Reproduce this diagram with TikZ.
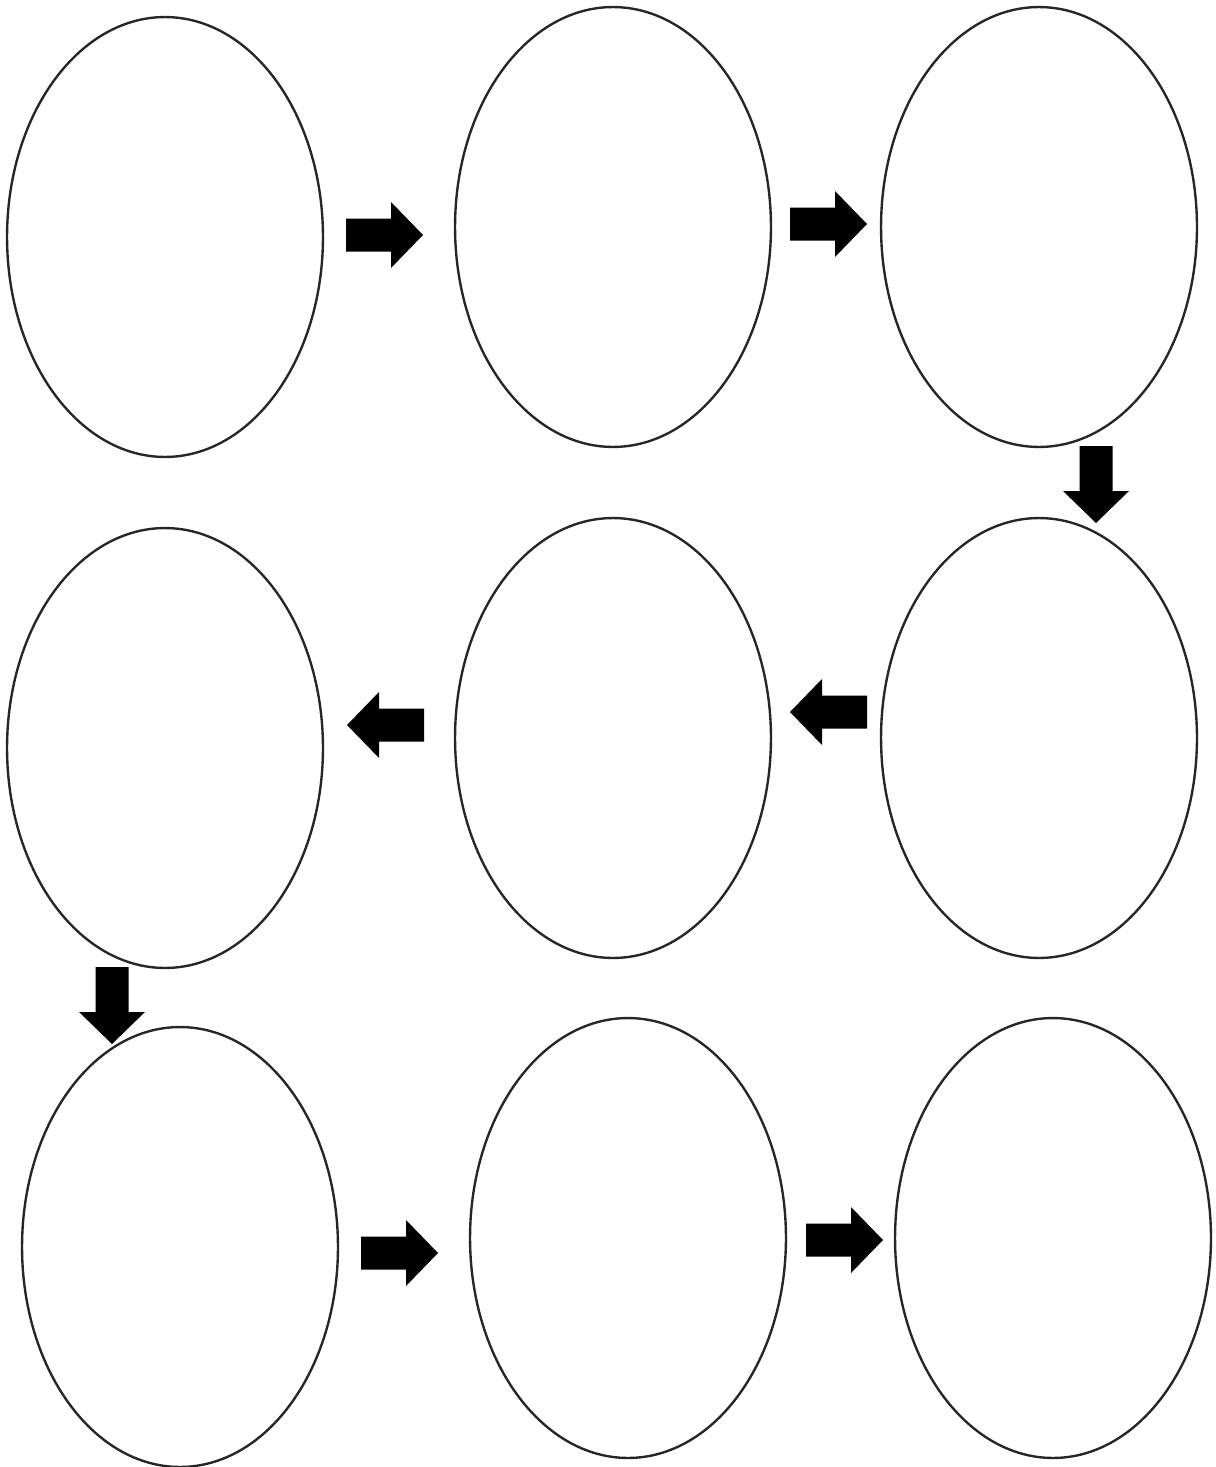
\documentclass[tikz,border=0pt]{standalone}
\usepackage{tikz}
\usetikzlibrary{shapes.geometric}

\tikzset{
  bubble/.style={ellipse, draw=black!85, line width=1.35pt, inner sep=0pt,
    minimum width=6.32cm, minimum height=8.8cm},
  blockarrow/.pic={
    \fill[black] (0,-16.5) -- (45,-16.5) -- (45,-33) -- (77,0) -- (45,33)
      -- (45,16.5) -- (0,16.5) -- cycle;
  }
}

\begin{document}
\begin{tikzpicture}[x=0.02cm, y=-0.02cm]
    \useasboundingbox (0,0) rectangle (1215,1467);

    % first row
    \node[bubble] (E1) at (165, 237) {};
    \node[bubble] (E2) at (613, 227) {};
    \node[bubble] (E3) at (1039, 227) {};

    % second row
    \node[bubble] (E4) at (1039, 738) {};
    \node[bubble] (E5) at (613, 738) {};
    \node[bubble] (E6) at (165, 748) {};

    % third row
    \node[bubble] (E7) at (180, 1247) {};
    \node[bubble] (E8) at (628, 1238) {};
    \node[bubble] (E9) at (1053, 1238) {};

    \pic at (346, 235) {blockarrow};
    \pic at (790, 224) {blockarrow};
    \pic[rotate=-90] at (1096, 446) {blockarrow};
    \pic[rotate=180] at (867, 712) {blockarrow};
    \pic[rotate=180] at (424, 725) {blockarrow};
    \pic[rotate=-90] at (112, 967) {blockarrow};
    \pic at (361, 1253) {blockarrow};
    \pic at (806, 1240) {blockarrow};
  \end{tikzpicture}
\end{document}
